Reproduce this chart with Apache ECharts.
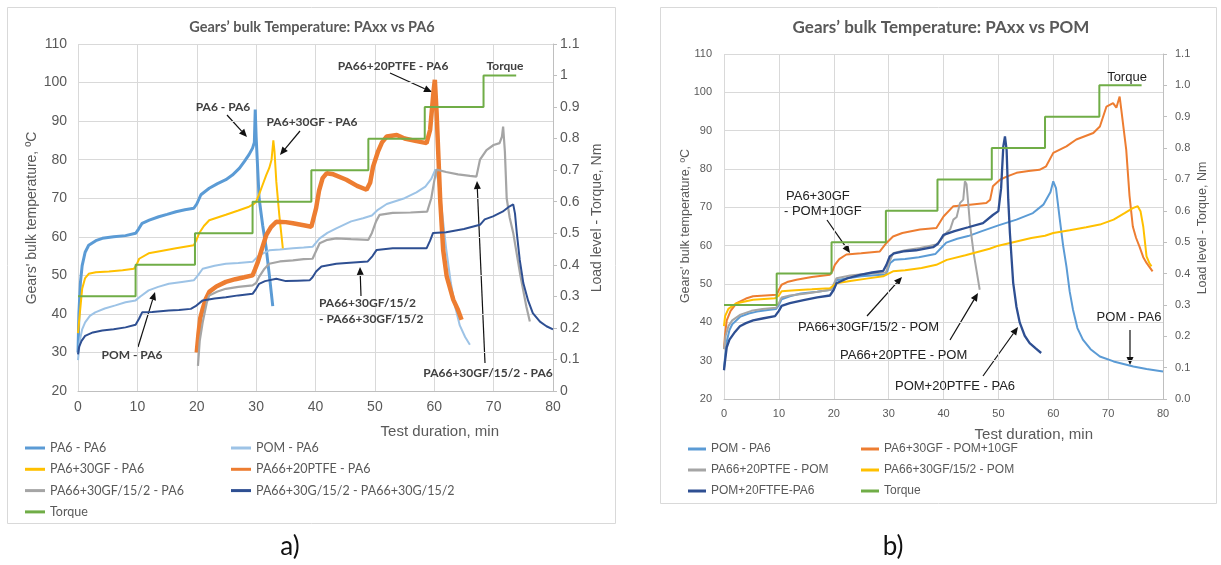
<!DOCTYPE html>
<html><head><meta charset="utf-8">
<script src="https://cdn.jsdelivr.net/npm/echarts@6/dist/echarts.min.js"></script>
<style>html,body{margin:0;padding:0;background:#fff;}#c{width:1221px;height:565px;}</style>
</head><body><div id="c"></div>
<script>
// ================= DATA: panel a) PAxx vs PA6 =================
const aX_TICKS = [0, 10, 20, 30, 40, 50, 60, 70, 80];
const aPA6_PA6 = [[0,30],[0.15,40],[0.4,48],[0.7,52.5],[1.2,56],[1.8,57.8],[3,59],[4.1,59.6],[6,60],[8,60.3],[9.7,60.9],[10.2,62],[10.8,63.5],[12,64.3],[13.6,65.2],[15,65.8],[16.5,66.5],[18,67],[19.5,67.4],[20,68.5],[20.7,70.9],[22.1,72.6],[23.5,73.8],[24.9,74.8],[26,76],[27.2,77.8],[28,79.5],[28.8,81.3],[29.4,83],[29.7,84.5],[29.85,93],[30,86],[30.5,70],[31.1,63],[31.7,57],[32.3,49],[32.8,42]];
const aPOM_PA6 = [[0,28],[0.3,33],[0.7,36],[1.2,37.8],[2,39.5],[2.9,40.4],[4.5,41.4],[6.3,42.2],[8,43],[9.7,43.5],[10.5,44.5],[11.9,46.1],[13.5,47],[15.3,47.8],[17.5,48.3],[19.5,48.7],[20.2,50],[21,51.7],[23,52.5],[24.9,53],[27,53.2],[29.4,53.5],[30.5,55.2],[32.2,56.5],[34,56.7],[36.2,57],[38,57.2],[39.5,57.4],[40.7,59.6],[42,61],[43.5,62.2],[46,64],[48,64.8],[49.5,65.5],[50.5,67],[52,68.5],[55,70],[57,71.5],[58.5,73],[59.5,75],[60.2,77.5],[60.6,75],[61.2,68],[62,57],[62.8,48],[63.5,42],[64.3,37],[65.2,34],[66,32]];
const aGF_PA6 = [[0,35],[0.3,40],[0.7,46.5],[1.2,49.3],[1.8,50.4],[3,50.8],[5.2,51],[7.5,51.3],[9.4,51.7],[9.8,52.5],[10.3,54.3],[11.9,55.7],[14,56.3],[16.5,57],[19.5,57.8],[19.9,59],[20.4,60.9],[21.2,62.8],[22.1,64.3],[24.9,65.7],[27,66.8],[28.8,67.8],[29.6,68.5],[30,69.1],[30.5,71],[31.1,73.5],[31.7,76],[32.2,77.8],[32.6,80],[32.9,85],[33.1,82],[33.4,74.3],[33.9,65.7],[34.5,57]];
const aPTFE_PA6 = [[20,30],[20.3,35],[20.6,39],[21,41.3],[21.5,43.8],[22.1,45.7],[23.3,47.1],[24.9,48.3],[26.5,49],[28,49.5],[29.4,50],[29.8,51.5],[30.3,53.5],[31,57],[31.7,60.4],[32.5,62.5],[33.4,63.9],[35,63.8],[36.2,63.5],[38,63],[39.3,62.6],[39.7,65],[40.1,67.4],[40.6,72],[41.2,75.2],[41.9,76.5],[43,76.2],[45.2,74.8],[47,73.2],[48.6,72.2],[49.2,74],[49.7,78.2],[50.5,82],[51.2,84.5],[52,86],[53.7,86.4],[55,85.5],[57,84.8],[58.7,84.3],[59.3,87.7],[59.9,98],[60.1,100.7],[60.4,92],[61,69.6],[61.5,56.6],[62.1,49.7],[63.2,43.7],[64,41],[64.6,38.5]];
const aGF152_PA6 = [[20.2,26.5],[20.5,33],[21,37.8],[21.7,43],[22.1,44.8],[23.5,45.8],[24.9,46.5],[27,47],[29.4,47.4],[30,48],[30.5,49.6],[31.3,51.5],[32.2,53],[34,53.6],[36.2,53.9],[38,54.2],[39.5,54.3],[40,56],[40.7,58.3],[42,59.2],[43.5,59.6],[46,59.4],[48.9,59.2],[49.5,61],[50.2,64],[50.8,65.7],[53,66.2],[56,66.3],[58.8,66.5],[59.5,70],[60,74.5],[60.4,77.4],[62,76.8],[64,76.2],[66,75.8],[67.1,75.6],[67.7,80],[68.8,82.5],[70,83.8],[71,84.3],[71.4,86],[71.6,88.6],[71.9,82],[72.2,70],[72.7,65],[73.3,61],[74.5,50],[75.5,42],[76.1,38]];
const aGF152_GF152 = [[0,29.5],[0.2,31.5],[0.6,33],[1.2,34.3],[2.5,35.2],[4.1,35.7],[6,36],[8,36.5],[9.7,37.2],[10.3,38.8],[10.8,40.4],[12.5,40.5],[15.3,40.9],[17,41],[19,41.3],[19.8,42],[21,43.5],[23,44],[24.9,44.3],[27,44.8],[29.4,45.2],[30,46.5],[30.5,47.8],[31.5,48.5],[33.4,49.1],[35,48.5],[37,48.6],[39,48.7],[39.5,49.5],[40.1,51],[41,52.3],[43.5,53],[45.2,53.2],[48.8,53.6],[49.6,55],[50.3,56.6],[53,57],[56.4,57],[58.7,57],[59.3,59],[59.8,61],[62,61.2],[65,62],[67.7,63.1],[68.5,64.5],[69.9,65.3],[71.5,66.5],[72.7,67.9],[73.3,68.4],[73.6,66],[73.9,61],[74.4,54],[75,48],[75.8,43.5],[76.6,40.2],[77.8,38],[78.9,36.8],[80,36]];
const aTORQUE_T = [0, 9.7, 19.7, 29.4, 39.3, 48.9, 58.4, 68.3, 73.8];
const aTORQUE_L = [0.3, 0.4, 0.5, 0.6, 0.7, 0.8, 0.9, 1.0, 1.0];

// ================= DATA: panel b) PAxx vs POM =================
const bPOM_PA6 = [[0,28],[0.2,31],[0.5,35],[1,38],[1.5,39.5],[3,41.5],[4.5,42.3],[6,42.8],[8,43.2],[9.5,43.5],[10,44.5],[10.5,46],[12,46.8],[14,47.5],[17,48],[19.5,48.5],[20,49.5],[20.5,51],[22.5,51.5],[25,52],[27.5,52.3],[29.5,52.5],[30.3,55.5],[31,56.3],[33,56.5],[35.5,57],[38.5,57.8],[39.3,59],[40.5,60.8],[42.5,61.8],[44.5,62.5],[47,63.8],[50,65.3],[53.3,66.8],[56.3,68.5],[58.2,70.7],[59.5,74],[60,76.8],[60.5,75],[61.2,66.8],[61.8,60],[62.4,54.6],[63,48],[63.6,43.3],[64.4,38.5],[65.4,35.5],[66.8,33],[68.5,31.1],[71,29.8],[74.6,28.5],[77,27.8],[80,27.2]];
const bGF_POM10GF = [[0,33],[0.2,37],[0.5,40.5],[1.2,43],[2.3,45],[4,46.2],[5.3,46.8],[7.5,47],[9.6,47.2],[10,48.5],[10.5,49.8],[11.5,50.5],[13.2,51.1],[16,51.8],[19.3,52.4],[19.8,53.5],[20.2,55],[21,56.5],[22.3,57.7],[25,58],[28.4,58.5],[29.6,60.7],[30.8,62.4],[32.5,63.3],[35.7,64.2],[38.7,64.6],[40,67.6],[41.8,70.3],[44.8,70.7],[47.8,71.1],[48.5,72],[49,75.5],[50.3,77.2],[51.5,78],[53.3,79],[55.5,79.5],[57.5,79.8],[58.7,80.7],[60,84.2],[62.4,85.9],[64.2,87.7],[67.3,89.4],[68.5,91.1],[69.7,96.3],[70.9,97.2],[71.5,96],[72.1,98.9],[72.4,95.5],[73.3,85],[73.9,73],[74.5,65],[75.1,62],[75.7,59.8],[76.4,57],[77,55.5],[78.1,53.3]];
const bPTFE_POM = [[0,33],[0.3,36.5],[0.8,39],[1.5,40.5],[3,42],[5,43],[7,43.5],[9.5,43.8],[10,45],[10.5,46.5],[12,47],[15,47.5],[19.5,48.5],[20,50],[20.5,51.5],[23,52.2],[26,52.7],[29.5,53],[30.2,56],[30.8,58],[33,58.8],[35.7,59.4],[38.7,60.3],[39.5,61.5],[40.6,63.5],[41.2,64.2],[41.8,66.8],[42.4,67.5],[43,71.1],[43.6,72],[43.9,76.8],[44.2,76],[44.5,71.1],[44.8,66],[45.1,62.4],[45.5,58],[46,53.7],[46.6,48.5]];
const bGF152_POM = [[0,39],[0.2,41.6],[0.8,43.5],[2.3,45],[5.3,45.9],[9.3,46.3],[10,47],[10.5,48.1],[13,48.4],[16,48.6],[19.3,48.9],[20.5,50.2],[23,50.8],[26,51.4],[29,52],[30.8,53.3],[33,53.6],[36,54.2],[38.7,55],[40.6,56.3],[44,57.5],[48.4,59.2],[50,60],[53.3,61.1],[56,62],[58.5,62.6],[60,63.3],[63,64],[66,64.8],[68.5,65.5],[71,66.8],[73,68.5],[74.5,69.8],[75.4,70.3],[75.9,69],[76.4,65],[77,57.2],[77.5,55.5],[77.9,54.6]];
const bPOM20_PA6 = [[0,27.5],[0.2,30],[0.5,33.5],[1,35.5],[2,37.5],[2.9,39],[4,39.8],[5.3,40.5],[7,41],[9.3,41.6],[10,43],[10.5,44.3],[12,45],[14.5,45.8],[17,46.5],[19.3,47],[20,48.5],[20.5,50.2],[22.5,51.5],[24.8,52.4],[27,53],[29,53.4],[29.6,55],[30.2,57.2],[31,58],[32.7,58.5],[35,58.8],[38.1,59.6],[39,60.5],[40,62.8],[42,63.8],[44.5,64.8],[47.2,65.9],[49,68],[50,69],[50.5,75],[50.9,85.9],[51.2,88.5],[51.5,85],[51.8,72],[52.1,63.3],[52.7,50.3],[53.3,44],[53.9,39.9],[54.8,36.5],[55.7,34.6],[56.8,33.2],[57.8,32]];
const bTORQUE_T = [0, 9.6, 19.6, 29.5, 38.9, 48.8, 58.5, 68.4, 76.1];
const bTORQUE_L = [0.3, 0.4, 0.5, 0.6, 0.7, 0.8, 0.9, 1.0, 1.0];

// ================= STYLE =================
const COL = {blue:'#5B9BD5', lblue:'#9DC3E6', gold:'#FFC000', orange:'#ED7D31', gray:'#A5A5A5', dblue:'#2E4F92', green:'#70AD47'};
const TXT = '#595959';
const ARIAL = '"Liberation Sans", Arial, sans-serif';
const CAL = 'Lato, "Open Sans", sans-serif';

const chart = echarts.init(document.getElementById('c'));

function ln(name, data, color, xi, yi, w, extra) {
  return Object.assign({name, type:'line', data, xAxisIndex:xi, yAxisIndex:yi, color,
    symbol:'none', showSymbol:false, silent:true, animation:false,
    lineStyle:{color, width:w}, itemStyle:{color}}, extra || {});
}
function steps(t, l) { return t.map((v, i) => [v, l[i]]); }

const xAx = (g, fs, margin) => ({gridIndex:g, type:'value', min:0, max:80, interval:10,
  axisLine:{show:true, lineStyle:{color:'#BFBFBF'}}, axisTick:{show:false},
  axisLabel:{fontSize:fs, color:TXT, margin, fontFamily:ARIAL},
  splitLine:{show:true, lineStyle:{color:'#D9D9D9'}}});
const yTemp = (g, fs, margin) => ({gridIndex:g, type:'value', min:20, max:110, interval:10,
  axisLine:{show:false}, axisTick:{show:false},
  axisLabel:{fontSize:fs, color:TXT, margin, fontFamily:ARIAL},
  splitLine:{show:true, lineStyle:{color:'#D9D9D9'}}});
const yTorque = (g, fs, margin, fmt) => ({gridIndex:g, type:'value', position:'right', min:0, max:1.1, interval:0.1,
  axisLine:{show:true, lineStyle:{color:'#BFBFBF'}}, axisTick:{show:true, length:4, lineStyle:{color:'#BFBFBF'}},
  axisLabel:{fontSize:fs, color:TXT, margin, fontFamily:ARIAL, formatter:fmt},
  splitLine:{show:false}});

function legendCol(names, left, top, gap, fs, fam, iw) {
  return {data:names, orient:'vertical', left, top, itemGap:gap, itemWidth:iw, itemHeight:3, icon:'rect',
    selectedMode:false, padding:0, formatter:n => n.trim(),
    textStyle:{fontSize:fs, fontFamily:fam, color:TXT, lineHeight:14}};
}

function arrow(x1, y1, x2, y2) {
  const a = Math.atan2(y2 - y1, x2 - x1), L = 8, W = 3.5;
  const bx = x2 - L * Math.cos(a), by = y2 - L * Math.sin(a);
  const px = -Math.sin(a) * W, py = Math.cos(a) * W;
  return [
    {type:'line', silent:true, shape:{x1, y1, x2:bx, y2:by}, style:{stroke:'#111', lineWidth:1.2}},
    {type:'polygon', silent:true, shape:{points:[[x2, y2], [bx + px, by + py], [bx - px, by - py]]}, style:{fill:'#111'}}
  ];
}
function txt(text, x, y, font, opts) {
  opts = opts || {};
  const align = opts.align || 'center';
  return {type:'text', x, y, rotation:opts.rot || 0, silent:true, z:100,
    style:{text, font, fill:opts.fill || '#404040', align, verticalAlign:'middle', textAlign:align, textVerticalAlign:'middle'}};
}

const fmtA = v => String(Math.round(v * 10) / 10);
const fmtB = v => (Math.round(v * 10) / 10).toFixed(1);

const AF = 'bold 12px ' + CAL;   // panel a annotation font
const BF = '13px ' + ARIAL;      // panel b annotation font

const graphics = [
  {type:'rect', silent:true, z:-10, shape:{x:7.5, y:7.5, width:608, height:516}, style:{fill:'#fff', stroke:'#D9D9D9', lineWidth:1}},
  {type:'rect', silent:true, z:-10, shape:{x:660.5, y:7.5, width:556, height:496}, style:{fill:'#fff', stroke:'#D9D9D9', lineWidth:1}},
  txt('Gears’ bulk Temperature: PAxx vs PA6', 312, 27, 'bold 14.5px ' + CAL, {fill:TXT}),
  txt('Gears’ bulk Temperature: PAxx vs POM', 941, 28, 'bold 17px ' + CAL, {fill:TXT}),
  txt('Gears\' bulk temperature, ºC', 32, 218, '14px ' + ARIAL, {fill:TXT, rot:Math.PI / 2}),
  txt('Load level - Torque, Nm', 597, 218, '14px ' + ARIAL, {fill:TXT, rot:Math.PI / 2}),
  txt('Gears\' bulk temperature, ºC', 686, 226, '12.5px ' + ARIAL, {fill:TXT, rot:Math.PI / 2}),
  txt('Load level - Torque, Nm', 1203, 228, '12.5px ' + ARIAL, {fill:TXT, rot:Math.PI / 2}),
  txt('Test duration, min', 499, 432, '15px ' + ARIAL, {fill:TXT, align:'right'}),
  txt('Test duration, min', 1093, 435, '15px ' + ARIAL, {fill:TXT, align:'right'}),
  txt('a)', 290, 547, '26px ' + CAL, {fill:'#111'}),
  txt('b)', 893, 547, '26px ' + CAL, {fill:'#111'}),
  // panel a annotations
  txt('PA6 - PA6', 223, 107, AF),
  ...arrow(227, 115, 247, 137),
  txt('PA6+30GF - PA6', 312, 122, AF),
  ...arrow(300, 131, 280, 155),
  txt('PA66+20PTFE - PA6', 393, 66, AF),
  ...arrow(390, 73, 432, 92),
  txt('Torque', 505, 66, AF),
  txt('POM - PA6', 132, 355, AF),
  ...arrow(138, 347, 155, 292),
  txt('PA66+30GF/15/2', 319, 303, AF, {align:'left'}),
  txt('- PA66+30GF/15/2', 319, 319, AF, {align:'left'}),
  ...arrow(361, 296, 360, 267),
  txt('PA66+30GF/15/2 - PA6', 488, 373, AF),
  ...arrow(485, 363, 477, 181),
  // panel b annotations
  txt('Torque', 1127, 77, BF, {fill:'#222'}),
  txt('PA6+30GF', 786, 196, BF, {align:'left', fill:'#222'}),
  txt('- POM+10GF', 784, 211, BF, {align:'left', fill:'#222'}),
  ...arrow(827, 220, 850, 253),
  txt('PA66+30GF/15/2 - POM', 798, 327, BF, {align:'left', fill:'#222'}),
  ...arrow(867, 316, 902, 277),
  txt('PA66+20PTFE - POM', 840, 355, BF, {align:'left', fill:'#222'}),
  ...arrow(950, 340, 978, 293),
  txt('POM+20PTFE - PA6', 895, 386, BF, {align:'left', fill:'#222'}),
  ...arrow(983, 376, 1018, 327),
  txt('POM - PA6', 1129, 317, BF, {fill:'#222'}),
  ...arrow(1130, 330, 1130, 365)
];

const option = {
  animation:false,
  textStyle:{fontFamily:ARIAL},
  grid:[
    {left:78, top:44, width:475, height:347},
    {left:724, top:54, width:439, height:345}
  ],
  xAxis:[xAx(0, 14, 9), xAx(1, 11, 9)],
  yAxis:[yTemp(0, 14, 11), yTorque(0, 14, 7, fmtA), yTemp(1, 11, 12), yTorque(1, 11, 12, fmtB)],
  legend:[
    legendCol(['PA6 - PA6', 'PA6+30GF - PA6', 'PA66+30GF/15/2 - PA6', 'Torque'], 25, 441, 7.3, 12.5, CAL, 20),
    legendCol(['POM - PA6', 'PA66+20PTFE - PA6', 'PA66+30G/15/2 - PA66+30G/15/2'], 231, 441, 7.3, 12.5, CAL, 20),
    legendCol(['POM - PA6 ', 'PA66+20PTFE - POM', 'POM+20FTFE-PA6'], 688, 442, 7, 12, ARIAL, 18),
    legendCol(['PA6+30GF - POM+10GF', 'PA66+30GF/15/2 - POM', 'Torque '], 861, 442, 7, 12, ARIAL, 18)
  ],
  series:[
    ln('PA6 - PA6', aPA6_PA6, COL.blue, 0, 0, 3),
    ln('POM - PA6', aPOM_PA6, COL.lblue, 0, 0, 2),
    ln('PA6+30GF - PA6', aGF_PA6, COL.gold, 0, 0, 2),
    ln('PA66+20PTFE - PA6', aPTFE_PA6, COL.orange, 0, 0, 4.5),
    ln('PA66+30GF/15/2 - PA6', aGF152_PA6, COL.gray, 0, 0, 2.2),
    ln('PA66+30G/15/2 - PA66+30G/15/2', aGF152_GF152, COL.dblue, 0, 0, 2),
    ln('Torque', steps(aTORQUE_T, aTORQUE_L), COL.green, 0, 1, 2, {step:'end'}),

    ln('POM - PA6 ', bPOM_PA6, COL.blue, 1, 2, 2),
    ln('PA6+30GF - POM+10GF', bGF_POM10GF, COL.orange, 1, 2, 2),
    ln('PA66+20PTFE - POM', bPTFE_POM, COL.gray, 1, 2, 2),
    ln('PA66+30GF/15/2 - POM', bGF152_POM, COL.gold, 1, 2, 2),
    ln('POM+20FTFE-PA6', bPOM20_PA6, COL.dblue, 1, 2, 2.3),
    ln('Torque ', steps(bTORQUE_T, bTORQUE_L), COL.green, 1, 3, 2, {step:'end'})
  ],
  graphic:{elements:graphics}
};
chart.setOption(option);
</script>
</body></html>
